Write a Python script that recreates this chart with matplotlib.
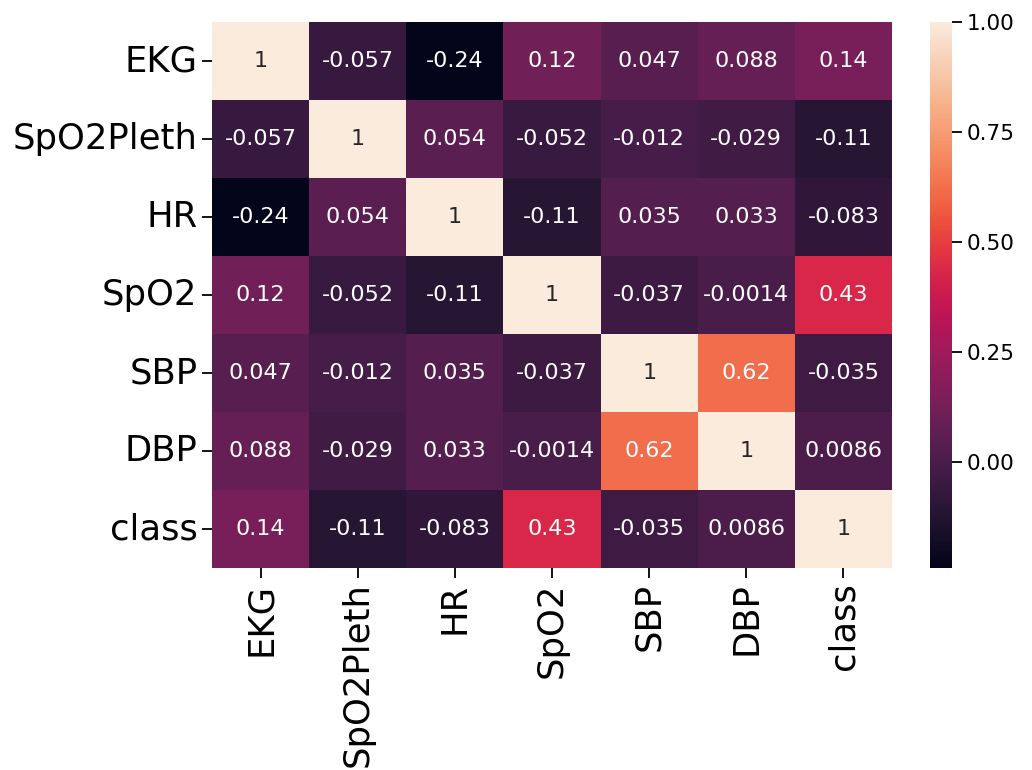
import numpy as np
import pandas as pd
import seaborn as sns
import matplotlib
matplotlib.use("Agg")
import matplotlib.pyplot as plt

labels = ["EKG", "SpO2Pleth", "HR", "SpO2", "SBP", "DBP", "class"]

corr_ekg = [1, -0.057, -0.24, 0.12, 0.047, 0.088, 0.14]
corr_pleth = [-0.057, 1, 0.054, -0.052, -0.012, -0.029, -0.11]
corr_hr = [-0.24, 0.054, 1, -0.11, 0.035, 0.033, -0.083]
corr_spo2 = [0.12, -0.052, -0.11, 1, -0.037, -0.0014, 0.43]
corr_sbp = [0.047, -0.012, 0.035, -0.037, 1, 0.62, -0.035]
corr_dbp = [0.088, -0.029, 0.033, -0.0014, 0.62, 1, 0.0086]
corr_class = [0.14, -0.11, -0.083, 0.43, -0.035, 0.0086, 1]

df = pd.DataFrame([corr_ekg, corr_pleth, corr_hr, corr_spo2, corr_sbp, corr_dbp, corr_class],
                  index=labels, columns=labels)

fig = plt.figure(figsize=(10.32, 7.7), dpi=100)
ax = fig.add_axes([212 / 1032, 1 - 568 / 770, 680 / 1032, 546 / 770])
cax = fig.add_axes([930 / 1032, 1 - 568 / 770, 22 / 1032, 546 / 770])

sns.heatmap(df, annot=True, ax=ax, cbar_ax=cax, annot_kws={"fontsize": 16})

ax.tick_params(axis="both", labelsize=25.5, length=7, width=1.3)
ax.set_xticklabels(labels, rotation=90)
ax.set_yticklabels(labels, rotation=0)
cax.tick_params(labelsize=15.5, length=7, width=1.3)
cax.set_yticks([0.0, 0.25, 0.5, 0.75, 1.0])
cax.set_yticklabels(["0.00", "0.25", "0.50", "0.75", "1.00"])

fig.savefig("out.png", dpi=100)
